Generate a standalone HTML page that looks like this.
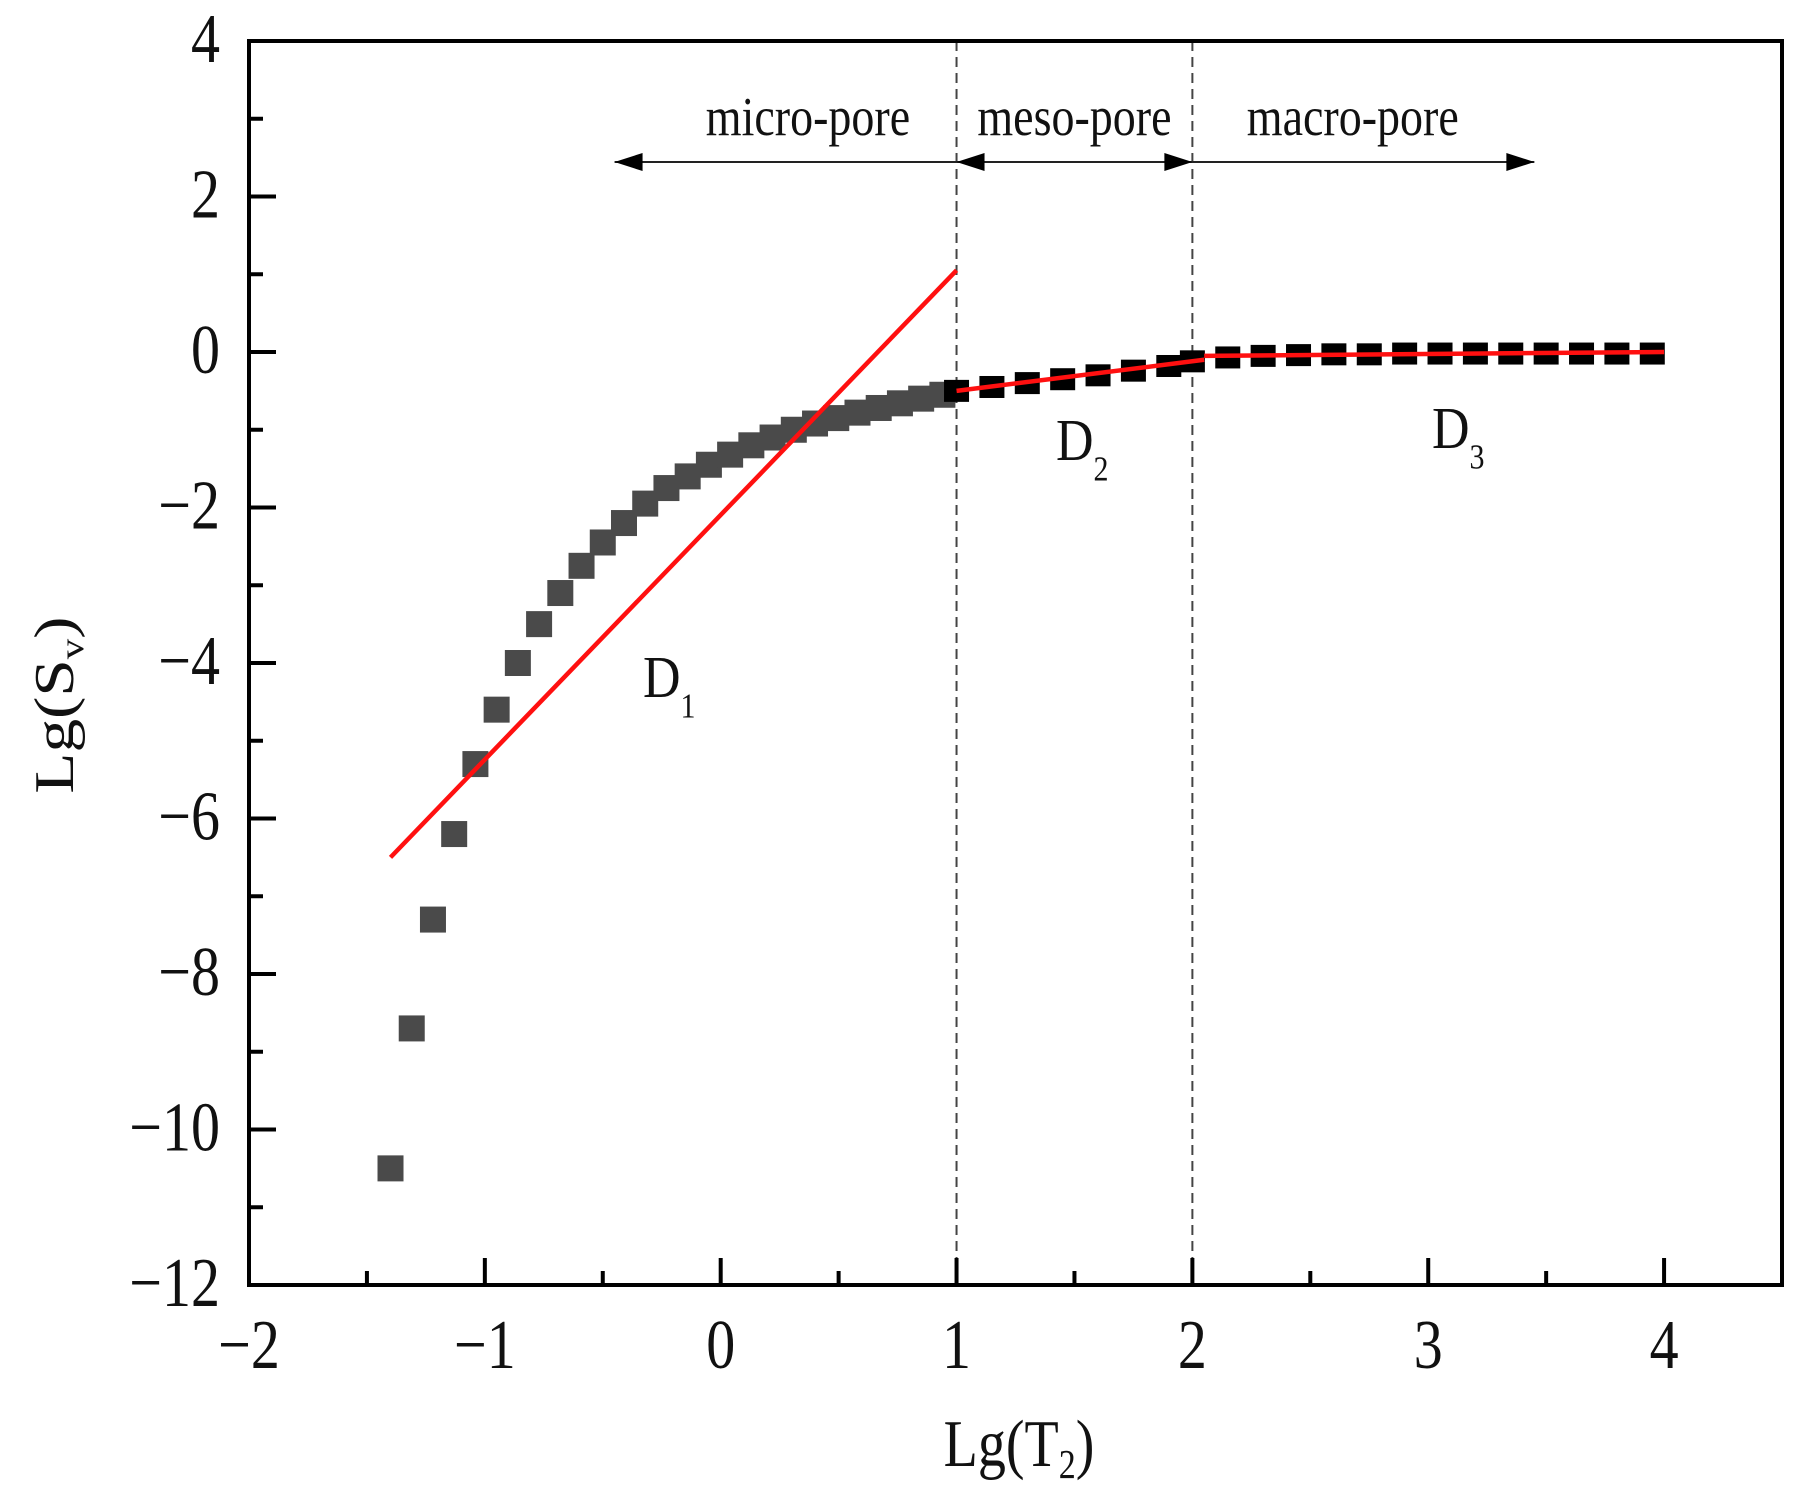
<!DOCTYPE html>
<html><head><meta charset="utf-8"><style>
html,body{margin:0;padding:0;background:#fff;}
svg{display:block;font-family:"Liberation Serif","DejaVu Serif",serif;}
</style></head><body>
<svg id="chart" width="1817" height="1506" viewBox="0 0 1817 1506" xmlns="http://www.w3.org/2000/svg">
<g id="g"></g>
</svg>
<script>
const grayX=[-1.40,-1.31,-1.22,-1.13,-1.04,-0.95,-0.86,-0.77,-0.68,-0.59,-0.50,-0.41,-0.32,-0.23,-0.14,-0.05,0.04,0.13,0.22,0.31,0.40,0.49,0.58,0.67,0.76,0.85,0.94];
const grayY=[-10.5,-8.7,-7.3,-6.2,-5.3,-4.6,-4.0,-3.5,-3.1,-2.75,-2.45,-2.2,-1.95,-1.75,-1.6,-1.45,-1.32,-1.2,-1.1,-1.0,-0.92,-0.85,-0.78,-0.72,-0.66,-0.6,-0.55];
const blackX=[1.0,1.15,1.3,1.45,1.6,1.75,1.9,2.0,2.15,2.3,2.45,2.6,2.75,2.9,3.05,3.2,3.35,3.5,3.65,3.8,3.95];
const blackY=[-0.5,-0.45,-0.4,-0.35,-0.3,-0.24,-0.18,-0.12,-0.07,-0.05,-0.04,-0.03,-0.03,-0.02,-0.02,-0.02,-0.02,-0.02,-0.02,-0.02,-0.02];
const fitX=[[-1.4,1.0],[1.0,2.05],[2.05,4.0]];
const fitY=[[-6.5,1.05],[-0.5,-0.1],[-0.05,0.0]];
const xTicks=[-2,-1,0,1,2,3,4];
const xTickLabels=["\u22122","\u22121","0","1","2","3","4"];
const yTicks=[4,2,0,-2,-4,-6,-8,-10,-12];
const yTickLabels=["4","2","0","\u22122","\u22124","\u22126","\u22128","\u221210","\u221212"];

const L=249,R=1782,T=41,B=1285;
const X=v=>L+(v+2)*(R-L)/6.5;
const Y=v=>T+(4-v)*(B-T)/16;
const NS="http://www.w3.org/2000/svg";
const g=document.getElementById('g');
function mk(tag,attrs,parent){const e=document.createElementNS(NS,tag);for(const k in attrs)e.setAttribute(k,attrs[k]);(parent||g).appendChild(e);return e;}
function txt(x,y,s,size,anchor,sy){const e=mk('text',{transform:`translate(${x},${y}) scale(1,${sy||1.2})`,'font-size':size,'text-anchor':anchor||'middle',fill:'#111'});e.textContent=s;return e;}

[1,2].forEach(v=>{
 const l=mk('line',{x1:X(v),x2:X(v),y1:T,y2:B,stroke:'#444','stroke-width':2,'stroke-dasharray':'10,6'});
 
 
});

grayX.forEach((v,i)=>{
 const r=mk('rect',{x:X(v)-13,y:Y(grayY[i])-13,width:26,height:26,fill:'#4a4a4a'});
 
 
});
blackX.forEach((v,i)=>{
 const r=mk('rect',{x:X(v)-12.5,y:Y(blackY[i])-11,width:25,height:22,fill:'#000'});
 
 
});
fitX.forEach((p,i)=>{
 const l=mk('line',{x1:X(p[0]),y1:Y(fitY[i][0]),x2:X(p[1]),y2:Y(fitY[i][1]),stroke:'#ff1010','stroke-width':4.5});
 
 
});

const fr=mk('rect',{x:L,y:T,width:R-L,height:B-T,fill:'none',stroke:'#000','stroke-width':4});



for(let v=-1.5;v<=4.01;v+=0.5){
 const major=Number.isInteger(v);
 mk('line',{x1:X(v),x2:X(v),y1:B,y2:B-(major?27:14),stroke:'#000','stroke-width':4});
}
xTicks.forEach((v,i)=>{
 const t=txt(X(v),1368,xTickLabels[i],58,'middle');
 
 
});
for(let v=-11;v<=3;v+=1){
 const major=v%2===0;
 mk('line',{x1:L,x2:L+(major?27:14),y1:Y(v),y2:Y(v),stroke:'#000','stroke-width':4});
}
yTicks.forEach((v,i)=>{
 const t=txt(220,Y(v)+21,yTickLabels[i],58,'end');
 
 
});

const xt=mk('text',{transform:'translate(1019,1466) scale(1,1.2)','font-size':56,'text-anchor':'middle',fill:'#111'});
xt.innerHTML='Lg(T<tspan font-size="34" dy="10">2</tspan><tspan dy="-10">)</tspan>';


const yt=mk('text',{transform:'translate(73,705) rotate(-90) scale(1.2,1)','font-size':56,'text-anchor':'middle',fill:'#111'});
yt.innerHTML='Lg(S<tspan font-size="34" dy="10">v</tspan><tspan dy="-10">)</tspan>';



const ay=162;
function arrow(x1,x2,left,right,name){
 const a=mk('g',{});
 
 
 mk('line',{x1:x1,x2:x2,y1:ay,y2:ay,stroke:'#222','stroke-width':2},a);
 if(left)mk('polygon',{points:`${x1},${ay} ${x1+28},${ay-9} ${x1+28},${ay+9}`,fill:'#000'},a);
 if(right)mk('polygon',{points:`${x2},${ay} ${x2-28},${ay-9} ${x2-28},${ay+9}`,fill:'#000'},a);
}
arrow(X(-0.45),X(1),true,false,'micro-pore-arrow');
arrow(X(1),X(2),true,true,'meso-pore-arrow');
arrow(X(2),X(3.45),false,true,'macro-pore-arrow');

[['micro-pore',X(0.37),'micro-pore-label'],['meso-pore',X(1.5),'meso-pore-label'],['macro-pore',X(2.68),'macro-pore-label']].forEach(a=>{
 const t=txt(a[1],135,a[0],46,'middle');
 
 
});

[['1',643,697],['2',1056,460],['3',1432,448]].forEach(d=>{
 const t=mk('text',{transform:`translate(${d[1]},${d[2]}) scale(1,1.15)`,'font-size':52,fill:'#111'});
 t.innerHTML=`D<tspan font-size="30" dy="18">${d[0]}</tspan>`;
 
 
});
</script>
</body></html>
